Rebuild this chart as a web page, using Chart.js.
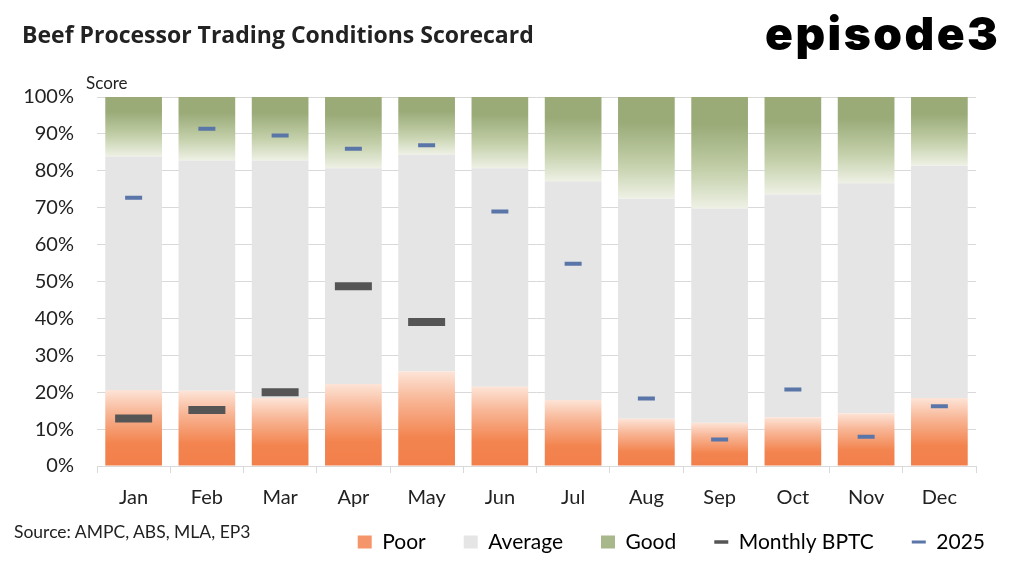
<!DOCTYPE html>
<html lang="en">
<head>
    <meta charset="UTF-8">
    <title>Beef Processor Trading Conditions Scorecard</title>
    <script src="https://cdn.jsdelivr.net/npm/chart.js"></script>
    <style>
        body { margin: 0; background: #fff; font-family: Lato, sans-serif; }
        #wrap { position: relative; width: 1024px; height: 563px; overflow: hidden; }
        #scoreChart { position: absolute; left: 0; top: 0; }
        .txt { position: absolute; white-space: nowrap; color: #222; line-height: normal; }
        #title { left: 22px; top: 18px; font-family: 'Open Sans', sans-serif; font-size: 23px; font-weight: bold; }
        #logo { left: 765px; top: 5px; font-family: Inter, sans-serif; font-size: 46px; font-weight: 900; letter-spacing: 2.5px; color: #000; }
        #score { left: 86px; top: 72px; font-size: 17px; }
        #source { left: 14px; top: 521px; font-size: 17.5px; }
    </style>
</head>
<body>
<div id="wrap">
    <canvas id="scoreChart" width="1024" height="563"></canvas>
    <div class="txt" id="title">Beef Processor Trading Conditions Scorecard</div>
    <div class="txt" id="logo">episode3</div>
    <div class="txt" id="score">Score</div>
    <div class="txt" id="source">Source: AMPC, ABS, MLA, EP3</div>
</div>
<script>
    // Monthly shares (%)
    const months = ['Jan', 'Feb', 'Mar', 'Apr', 'May', 'Jun', 'Jul', 'Aug', 'Sep', 'Oct', 'Nov', 'Dec'];
    const poor    = [20.6, 20.4, 18.4, 22.2, 25.6, 21.5, 17.9, 12.8, 11.7, 13.2, 14.3, 18.4];
    const average = [63.3, 62.4, 64.4, 58.5, 58.8, 59.2, 59.3, 59.6, 58.1, 60.4, 62.3, 63.0];
    const good    = [16.1, 17.2, 17.2, 19.3, 15.6, 19.3, 22.8, 27.6, 30.2, 26.4, 23.4, 18.6];
    const monthlyBPTC = [12.9, 15.2, 20.0, 48.7, 39.0, null, null, null, null, null, null, null];
    const score2025   = [72.7, 91.4, 89.6, 86.0, 86.9, 69.0, 54.8, 18.3, 7.2, 20.7, 7.9, 16.2];
    const yTicks = [0, 10, 20, 30, 40, 50, 60, 70, 80, 90, 100];

    // vertical gradient across one bar segment
    function segGradient(c, from, to, stops) {
        const chart = c.chart;
        if (!chart.chartArea || c.type !== 'data') return stops[0][1];
        const y = chart.scales.y;
        const g = chart.ctx.createLinearGradient(0, y.getPixelForValue(from), 0, y.getPixelForValue(to));
        stops.forEach(s => g.addColorStop(s[0], s[1]));
        return g;
    }

    const poorFill = c => segGradient(c, 0, poor[c.dataIndex],
        [[0, '#f27f4b'], [0.3, '#f3844f'], [0.7, '#f8b696'], [1, '#fde4d7']]);
    const goodFill = c => segGradient(c, poor[c.dataIndex] + average[c.dataIndex], 100,
        [[0, '#eef1e5'], [0.35, '#c3cfa9'], [0.75, '#9aab78'], [1, '#9aab78']]);

    const legendItems = [
        { text: 'Poor', fillStyle: '#f4956a', strokeStyle: '#f4956a', lineWidth: 0, pointStyle: 'rect' },
        { text: 'Average', fillStyle: '#e5e5e5', strokeStyle: '#e5e5e5', lineWidth: 0, pointStyle: 'rect' },
        { text: 'Good', fillStyle: '#a8b88a', strokeStyle: '#a8b88a', lineWidth: 0, pointStyle: 'rect' },
        { text: 'Monthly BPTC', fillStyle: '#555', strokeStyle: '#555', lineWidth: 3.5, pointStyle: 'line' },
        { text: '2025', fillStyle: '#5a75a8', strokeStyle: '#5a75a8', lineWidth: 3, pointStyle: 'line' }
    ];

    // the legend's item gap also sets its inner top padding, so lift it back up after layout
    const legendLift = {
        id: 'legendLift',
        afterLayout(chart) {
            const lg = chart.legend;
            if (!lg) return;
            const dy = 493.5 - lg.top;
            lg.top += dy;
            lg.bottom += dy;
        }
    };

    const ctx = document.getElementById('scoreChart').getContext('2d');
    new Chart(ctx, {
        type: 'bar',
        data: {
            labels: months,
            datasets: [
                { label: 'Poor', data: poor, backgroundColor: poorFill, order: 2 },
                { label: 'Average', data: average, backgroundColor: '#e5e5e5', order: 2 },
                { label: 'Good', data: good, backgroundColor: goodFill, order: 2 },
                {
                    type: 'line', label: 'Monthly BPTC', data: monthlyBPTC, stack: 'bptc',
                    showLine: false, pointStyle: 'line', pointRadius: 18.5, pointHoverRadius: 18.5,
                    pointBorderWidth: 8, borderColor: '#555', backgroundColor: '#555', order: 0
                },
                {
                    type: 'line', label: '2025', data: score2025, stack: 'y2025',
                    showLine: false, pointStyle: 'line', pointRadius: 8.5, pointHoverRadius: 8.5,
                    pointBorderWidth: 4, borderColor: '#5a75a8', backgroundColor: '#5a75a8', order: 1
                }
            ]
        },
        plugins: [legendLift],
        options: {
            responsive: false,
            animation: false,
            devicePixelRatio: 1,
            datasets: { bar: { barPercentage: 0.774, categoryPercentage: 1 } },
            layout: { padding: { top: 97, right: 1, left: 0, bottom: -22 } },
            plugins: {
                title: { display: false },
                tooltip: { enabled: false },
                legend: {
                    position: 'bottom',
                    align: 'end',
                    labels: {
                        usePointStyle: true,
                        pointStyleWidth: 14,
                        boxHeight: 13,
                        padding: 38,
                        color: '#222',
                        font: { family: 'Lato', size: 21 },
                        generateLabels: () => legendItems.map((it, i) => Object.assign({ datasetIndex: i, hidden: false }, it))
                    }
                }
            },
            scales: {
                x: {
                    stacked: true,
                    grid: { display: true, drawOnChartArea: false, color: '#d9d9d9', tickLength: 7, offset: true },
                    border: { display: true, color: '#d9d9d9' },
                    ticks: { color: '#222', font: { family: 'Lato', size: 20 }, padding: 13 },
                    afterFit: s => { s.height = 50; }
                },
                y: {
                    stacked: true,
                    min: 0,
                    max: 100,
                    afterBuildTicks: s => { s.ticks = yTicks.map(v => ({ value: v })); },
                    grid: { color: '#d9d9d9', drawTicks: false },
                    border: { display: false },
                    ticks: { color: '#222', font: { family: 'Lato', size: 20 }, padding: 23, callback: v => v + '%' },
                    afterFit: s => { s.width = 97; }
                },
                // empty right-hand spacer so the plot ends where the reference does
                yRight: {
                    position: 'right',
                    display: true,
                    grid: { display: false },
                    border: { display: false },
                    ticks: { display: false },
                    afterFit: s => { s.width = 47; }
                }
            }
        }
    });
</script>
</body>
</html>
